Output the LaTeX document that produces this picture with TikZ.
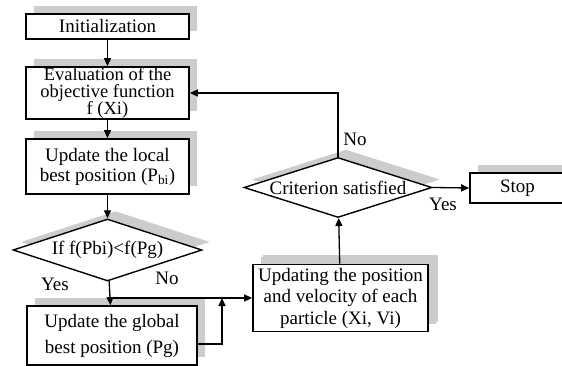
\documentclass[tikz,border=0pt]{standalone}
\usepackage{fontspec}
\setmainfont{Liberation Serif}
\usetikzlibrary{arrows.meta,shapes.geometric,shadows}

\begin{document}
\begin{tikzpicture}[x=1pt,y=-1pt,line width=1.3pt,
 font=\fontsize{19}{20}\selectfont,
 box/.style={draw,line width=1.7pt,fill=white,align=center,inner sep=0pt,
  drop shadow={shadow xshift=8pt,shadow yshift=8pt,fill=gray!40,opacity=1}},
 dec/.style={box,diamond,aspect=3,line width=1.4pt},
 lbl/.style={inner sep=0pt},
 >={Triangle[length=8pt,width=7pt]}]
 \useasboundingbox (0,0) rectangle (562,366);
 % left column
 \node[box,minimum width=163pt,minimum height=25pt] (init) at (107.5,26.5) {Initialization};
 \node[box,minimum width=163pt,minimum height=52pt,font=\fontsize{18.5}{17}\selectfont] (eval) at (107.5,93) {Evaluation of the\\objective function\\f (Xi)};
 \node[box,minimum width=163pt,minimum height=55pt] (loc) at (107.5,166.5) {Update the local\\best position (P\textsubscript{bi})};
 \node[dec,minimum width=189pt,minimum height=62pt] (cond) at (107.5,250) {If f(Pbi)<f(Pg)};
 \node[box,minimum width=170pt,minimum height=59pt] (glob) at (112,335.5) {Update the global\\[6pt]best position (Pg)};
 % right column
 \node[box,minimum width=175pt,minimum height=67pt,
  drop shadow={shadow xshift=10pt,shadow yshift=10pt,fill=gray!40,opacity=1}] (upd) at (340.5,298) {Updating the position\\[1.5pt]and velocity of each\\[1.5pt]particle (Xi, Vi)};
 \node[dec,minimum width=188pt,minimum height=60pt] (crit) at (338,187.5) {Criterion satisfied};
 \node[box,minimum width=95pt,minimum height=30pt] (stop) at (517.5,188) {Stop};
 \coordinate (mrg) at (222,298);
 \draw[->] (init) -- (eval);
 \draw[->] (eval) -- (loc);
 \draw[->] (loc) -- (cond);
 \draw[->] (cond) -- (glob);
 \draw[->] (cond.south |- upd.west) -- (upd.west);
 \draw[->] ([yshift=-8.5pt]glob.east) -| (mrg);
 \draw[->] (upd) -- (crit);
 \draw[->] (crit.north) |- (eval.east);
 \draw[->] (crit.east) -- (stop.west);
 \node[lbl] (yes1) at (55,284) {Yes};
 \node[lbl] (no1) at (167,278) {No};
 \node[lbl] (no2) at (355,139) {No};
 \node[lbl] (yes2) at (443,204) {Yes};
\end{tikzpicture}
\end{document}
